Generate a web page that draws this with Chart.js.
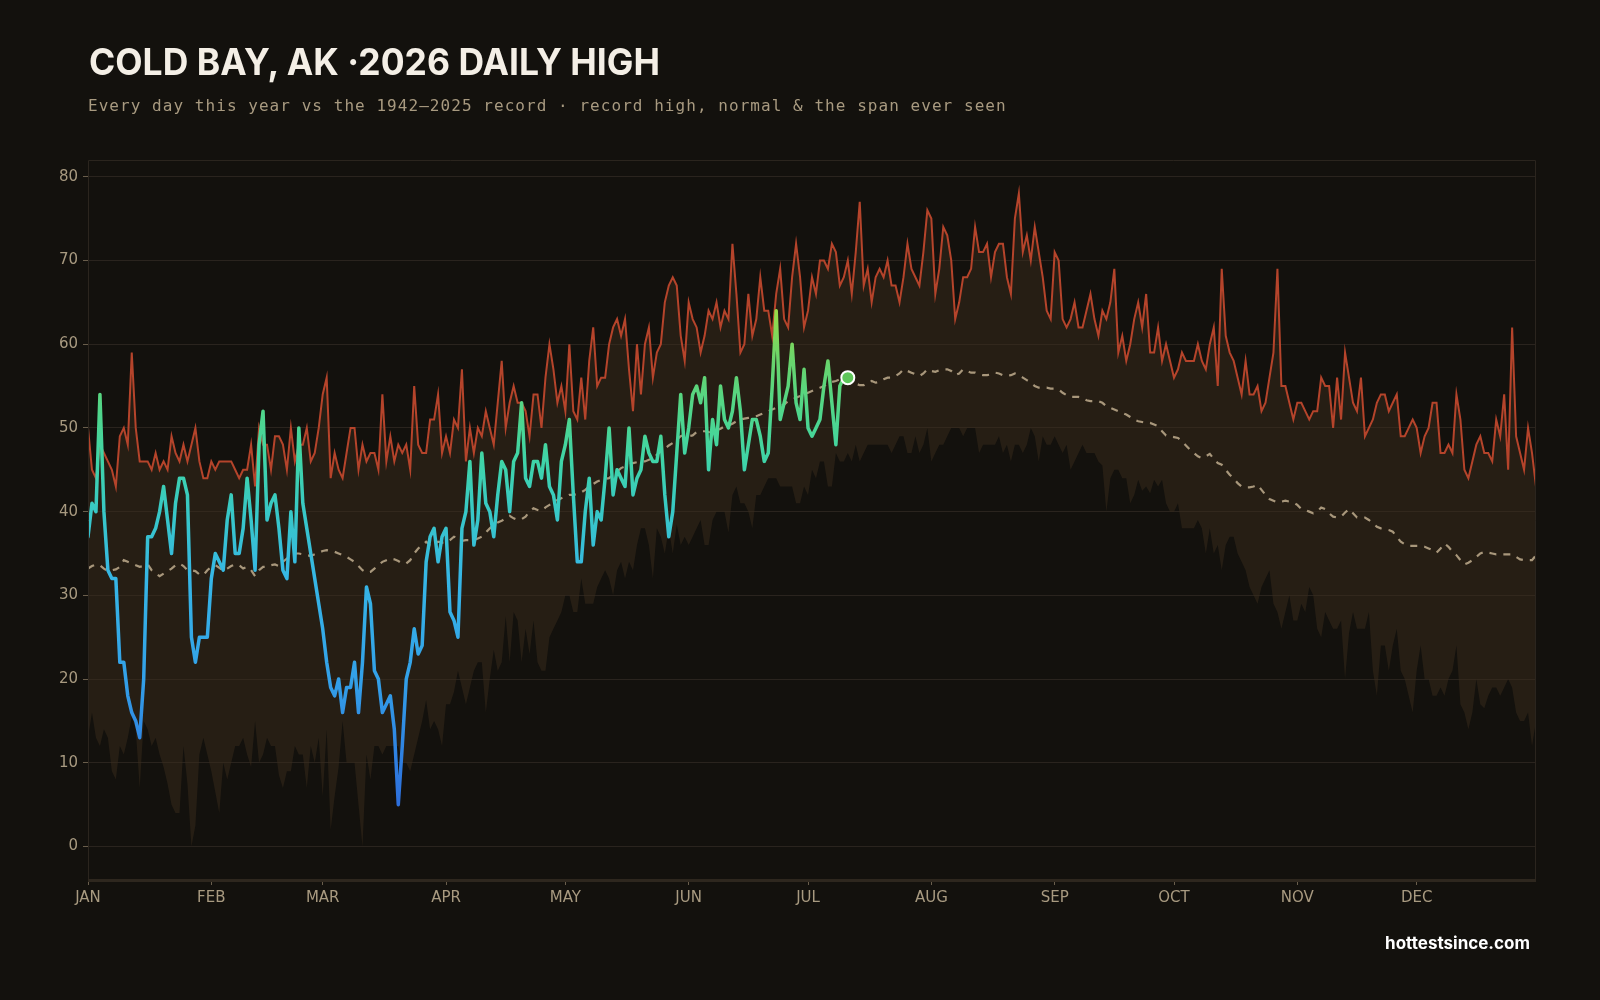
<!DOCTYPE html>
<html>
<head>
<meta charset="utf-8">
<title>Cold Bay, AK 2026 daily high</title>
<script src="https://cdn.jsdelivr.net/npm/chart.js@4.4.1/dist/chart.umd.min.js"></script>
<style>
  html, body { margin: 0; padding: 0; background: #13110d; }
  #wrap { position: relative; width: 1600px; height: 1000px; overflow: hidden; }
  #title { position: absolute; left: 89px; top: 40px; font: 700 37px Inter, "DejaVu Sans", sans-serif; line-height: 44px; color: #f4efe6; white-space: nowrap; transform-origin: 0 0; }
  #sub { position: absolute; left: 88px; top: 96px; font: 16px "DejaVu Sans Mono", monospace; letter-spacing: 1.05px; line-height: 20px; color: #a89a80; white-space: nowrap; }
  #foot { position: absolute; right: 70px; top: 933px; font: 700 17px Inter, "DejaVu Sans", sans-serif; line-height: 20px; color: #ffffff; }
  canvas { position: absolute; left: 0; top: 0; }
</style>
</head>
<body>
<div id="wrap">
  <canvas id="tempChart" width="1600" height="1000"></canvas>
  <div id="title">COLD BAY, AK ·2026 DAILY HIGH</div>
  <div id="sub">Every day this year vs the 1942–2025 record · record high, normal &amp; the span ever seen</div>
  <div id="foot">hottestsince.com</div>
</div>
<script>
// day-of-year index 0 = Jan 1, 364 = Dec 31
const monthStarts = [0, 31, 59, 90, 120, 151, 181, 212, 243, 273, 304, 334];
const monthLabels = ['JAN', 'FEB', 'MAR', 'APR', 'MAY', 'JUN', 'JUL', 'AUG', 'SEP', 'OCT', 'NOV', 'DEC'];
const yTicks = [0, 10, 20, 30, 40, 50, 60, 70, 80];

// record high, 1942-2025 (°F)
const recordHigh = [
  50,45,44,48,47,46,45,43,49,50, 48,59,50,46,46,46,45,47,45,46,
  45,49,47,46,48,46,48,50,46,44, 44,46,45,46,46,46,46,45,44,45,
  45,48,43,50,48,48,45,49,49,48, 45,50,46,48,48,50,46,47,50,54,
  56,44,47,45,44,47,50,50,45,48, 46,47,47,45,54,46,49,46,48,47,
  48,45,55,48,47,47,51,51,54,47, 49,47,51,50,57,46,50,47,50,49,
  52,50,48,53,58,50,53,55,53,53, 52,49,54,54,50,56,60,57,53,55,
  52,60,52,51,56,51,58,62,55,56, 56,60,62,63,61,63,57,52,60,54,
  60,62,56,59,60,65,67,68,67,61, 58,65,63,62,59,61,64,63,65,62,
  64,63,72,66,59,60,66,61,63,68, 64,64,61,66,69,63,62,68,72,68,
  62,64,68,66,70,70,69,72,71,67, 68,70,66,71,77,67,69,65,68,69,
  68,70,67,67,65,68,72,69,68,67, 71,76,75,66,69,74,73,70,63,65,
  68,68,69,74,71,71,72,68,71,72, 72,68,66,75,78,71,73,70,74,71,
  68,64,63,71,70,63,62,63,65,62, 62,64,66,63,61,64,63,65,69,59,
  61,58,60,63,65,62,66,59,59,62, 58,60,58,56,57,59,58,58,58,60,
  58,57,60,62,55,69,61,59,58,56, 54,58,54,54,55,52,53,56,59,69,
  55,55,53,51,53,53,52,51,52,52, 56,55,55,50,56,51,59,56,53,52,
  56,49,50,51,53,54,54,52,53,54, 49,49,50,51,50,47,49,50,53,53,
  47,47,48,47,54,51,45,44,46,48, 49,47,47,46,51,49,54,45,62,49,
  47,45,50,47,43
];

// lowest daily high ever seen, 1942-2025 (°F)
const recordLow = [
  13,16,13,12,14,13,9,8,12,11, 13,15.5,14,7,15,14,12,13,11,9.5,
  7.5,5,4,4,12,7.5,0,2.5,11,13, 11,9,6.5,4,10,8,10,12,12,13,
  11,9.5,15,10,11,13,12,12,8.5,7, 9,9,12,11,11,7,12,10,13,6,
  14,2,6,9.5,15,10,10,10,5,0, 11,8,12,12,11,12,12,12,12,10,
  10,9,11,13,15,17.5,14,15,14,12, 17,17,18.5,21,19,17,19,21,22,22,
  16,20,23.5,21,22,27.5,22,28,27,22, 26,23,27,22,21,21,25,26,27,28,
  30,30,28,28,32,29,29,29,31,32, 33,32,30,33,34,32,34,33,36,38,
  38,36,32,38,37,35,38,35,38.5,36, 37,36,37,38,39,36,36,39,40,40,
  40,37.5,42,43,41,41,40,38,42,42, 43,44,44,44,43,43,43,43,41,41,
  43,42,45,44,46,46,43,43,47,46, 46,47,46,48,46,47,48,48,48,48,
  48,48,47,48,49,49,47,47,49,47, 48,50,46,47,48,48,49,50,50,50,
  49,50,50,50,47,48,48,48,48,49, 47,48,46,48,48,47,48,50,49,46,
  49,48,48,49,48,47,48,45,46,47, 48,47,47,47,46,45.5,40,44,45,45,
  44,44,41,42,43.8,42.5,43,42.2,43.8,43, 43.8,41,40,40,41,38,38,38,38,39,
  38,35,38,35,36,33,36,37,37,35, 34,33,31,30,29,31,32,33,29,28,
  26,28,30,27,27,29,28,31,30,26, 25,28,27,26,26,27,20,25.5,28,26,
  26,26,28,21,18,24,24,21,24,26, 21,20,18,16,21,24,20,20,18,18,
  19,18,20,21,24,17,16,14,16,20, 17,16.5,18,19,19,18,19,20,19,16,
  15,15,16,12,15
];

// normal daily high (°F)
const normalHigh = [
  33.2,33.5,33.7,33.6,33.2,32.9,33.0,33.1,33.4,34.2, 34.0,33.8,33.6,33.4,33.5,33.7,33.0,32.6,32.3,32.6,
  32.9,33.2,33.6,33.8,33.5,33.0,33.0,32.9,32.5,32.4, 33.0,33.4,33.6,33.3,32.9,33.2,33.5,33.7,33.6,33.2,
  33.4,33.0,32.3,33.0,33.4,33.4,33.6,33.7,33.5,34.0, 34.4,34.8,35.0,35.0,34.9,34.8,34.7,34.9,35.1,35.3,
  35.4,35.3,35.2,35.0,34.8,34.6,34.3,34.0,33.5,33.0, 32.7,32.8,33.2,33.6,34.0,34.2,34.4,34.3,34.1,33.8,
  33.8,34.2,35.0,35.6,36.0,36.4,36.0,36.1,36.4,36.3, 36.3,36.6,37.0,36.8,36.5,36.6,36.6,36.6,36.8,37.0,
  37.5,38.0,38.4,38.7,38.9,39.2,39.5,39.2,39.0,39.1, 39.4,40.0,40.4,40.2,40.1,40.5,40.8,41.0,41.4,41.6,
  41.8,42.0,42.0,42.1,42.3,42.6,43.0,43.3,43.6,43.8, 43.9,44.0,44.4,44.8,45.2,45.4,45.6,45.8,45.9,46.0,
  46.0,46.2,46.3,46.8,47.2,47.5,47.9,48.2,48.6,49.0, 49.2,49.0,49.1,49.5,49.6,49.6,49.5,49.6,49.7,49.9,
  50.2,50.3,50.5,50.8,51.0,51.1,51.2,51.3,51.4,51.6, 51.8,52.0,52.2,52.4,52.6,52.8,53.2,53.4,53.6,53.8,
  54.0,54.2,54.4,54.6,54.8,55.0,55.3,55.5,55.6,55.8, 56.0,55.8,55.5,55.3,55.1,55.1,55.4,55.6,55.4,55.5,
  55.8,56.0,56.0,56.2,56.5,57.0,56.8,56.6,56.4,56.2, 56.5,57.0,56.8,56.7,56.9,57.0,57.0,56.8,56.3,56.5,
  57.0,56.8,56.6,56.6,56.4,56.3,56.3,56.4,56.6,56.5, 56.3,56.2,56.3,56.5,56.3,56.0,55.7,55.4,55.0,54.8,
  54.8,54.8,54.7,54.7,54.6,54.2,53.9,53.7,53.7,53.7, 53.6,53.3,53.2,53.2,53.2,53.0,52.6,52.4,52.2,52.0,
  51.8,51.6,51.3,51.0,50.8,50.7,50.6,50.6,50.4,50.2, 49.6,49.1,49.0,48.9,48.8,48.4,47.9,47.4,47.0,46.6,
  46.4,46.6,46.9,46.3,45.8,45.6,45.0,44.4,44.0,43.4, 43.0,42.9,42.9,43.0,43.2,42.6,42.0,41.5,41.3,41.1,
  41.2,41.3,41.2,41.1,40.8,40.3,40.2,40.0,39.8,40.0, 40.5,40.3,39.8,39.4,39.3,39.4,39.9,40.3,39.8,39.3,
  39.3,39.3,39.0,38.6,38.2,38.0,37.9,37.8,37.6,37.0, 36.4,36.1,35.9,35.9,35.9,35.9,35.8,35.6,35.4,35.1,
  35.6,36.2,35.8,35.2,34.8,34.2,33.7,33.9,34.2,34.6, 35.0,35.2,35.1,35.0,34.9,34.9,34.9,34.9,34.9,34.6,
  34.3,34.2,34.2,34.2,34.8
];

// 2026 daily high so far, Jan 1 - Jul 11 (°F)
const daily2026 = [
  37,41,40,54,40,33,32,32,22,22, 18,16,15,13,20,37,37,38,40,43,
  39,35,41,44,44,42,25,22,25,25, 25,32,35,34,33,39,42,35,35,38,
  44,39,33,48,52,39,41,42,38,33, 32,40,34,50,41,38,35,32,29,26,
  22,19,18,20,16,19,19,22,16,22, 31,29,21,20,16,17,18,14,5,12,
  20,22,26,23,24,34,37,38,34,37, 38,28,27,25,38,40,46,36,39,47,
  41,40,37,42,46,45,40,46,47,53, 44,43,46,46,44,48,43,42,39,46,
  48,51,42,34,34,40,44,36,40,39, 44,50,42,45,44,43,50,42,44,45,
  49,47,46,46,49,42,37,40,47,54, 47,50,54,55,53,56,45,51,48,55,
  51,50,52,56,52,45,48,51,51,49, 46,47,55,64,51,53,55,60,53,51,
  57,50,49,50,51,55,58,53,48,55, 56,56
];

// colour of the 2026 line by temperature
const tempStops = [
  [0, '#2c5fd6'], [10, '#2f7ee0'], [20, '#33a0e8'], [32, '#36b6e6'],
  [40, '#38c8c6'], [46, '#3fd4a8'], [52, '#50d68a'], [58, '#68d46c'],
  [64, '#98dc48'], [70, '#b0e040']
];

const toPoints = arr => arr.map((v, i) => ({ x: i, y: v }));

function tempGradient(chart) {
  const area = chart.chartArea;
  if (!area) return '#38c8c6';
  const y = chart.scales.y;
  const p0 = y.getPixelForValue(0);
  const p1 = y.getPixelForValue(70);
  const g = chart.ctx.createLinearGradient(0, p0, 0, p1);
  tempStops.forEach(s => g.addColorStop(s[0] / 70, s[1]));
  return g;
}

const plotFrame = {
  id: 'plotFrame',
  afterDraw(chart) {
    const { ctx, chartArea: a } = chart;
    ctx.save();
    ctx.strokeStyle = '#2b251e';
    ctx.lineWidth = 1;
    ctx.beginPath();
    ctx.moveTo(a.left + 0.5, a.bottom);
    ctx.lineTo(a.left + 0.5, a.top + 0.5);
    ctx.lineTo(a.right - 0.5, a.top + 0.5);
    ctx.lineTo(a.right - 0.5, a.bottom);
    ctx.stroke();
    ctx.strokeStyle = '#2e271e';
    ctx.lineWidth = 3;
    ctx.beginPath();
    ctx.moveTo(a.left, a.bottom + 0.5);
    ctx.lineTo(a.right, a.bottom + 0.5);
    ctx.stroke();
    ctx.restore();
  }
};

const lastIdx = daily2026.length - 1;

new Chart(document.getElementById('tempChart'), {
  type: 'line',
  data: {
    datasets: [
      {
        label: 'Record low',
        data: toPoints(recordLow),
        borderWidth: 0,
        pointRadius: 0,
        fill: false,
        order: 3
      },
      {
        label: 'Record high',
        data: toPoints(recordHigh),
        borderColor: '#b5442b',
        borderWidth: 2,
        pointRadius: 0,
        fill: 0,
        backgroundColor: 'rgba(58,44,28,0.5)',
        order: 2
      },
      {
        label: 'Normal',
        data: toPoints(normalHigh),
        borderColor: 'rgba(176,158,130,0.95)',
        borderWidth: 2.2,
        borderDash: [7, 7],
        pointRadius: 0,
        fill: false,
        order: 1
      },
      {
        label: '2026',
        data: toPoints(daily2026),
        borderColor: c => tempGradient(c.chart),
        borderWidth: 3.5,
        borderJoinStyle: 'round',
        borderCapStyle: 'round',
        pointRadius: c => c.dataIndex === lastIdx ? 6.5 : 0,
        pointBackgroundColor: '#5ec65a',
        pointBorderColor: '#ffffff',
        pointBorderWidth: 2,
        fill: false,
        order: 0
      }
    ]
  },
  options: {
    responsive: false,
    animation: false,
    layout: { padding: { top: 160, right: 64, bottom: 0, left: 0 } },
    elements: { line: { tension: 0 } },
    plugins: {
      legend: { display: false },
      tooltip: { enabled: false },
      title: { display: false }
    },
    scales: {
      x: {
        type: 'linear',
        min: 0,
        max: 364,
        afterFit: s => { s.height = 120; },
        afterBuildTicks: s => { s.ticks = monthStarts.map(v => ({ value: v })); },
        border: { display: false },
        grid: { drawOnChartArea: false, drawTicks: true, tickLength: 5, tickColor: '#6a5e4c' },
        ticks: {
          color: '#a89a80',
          font: { family: 'DejaVu Sans', size: 15 },
          padding: 4,
          maxRotation: 0,
          autoSkip: false,
          callback: v => monthLabels[monthStarts.indexOf(v)]
        }
      },
      y: {
        min: -4,
        max: 82,
        afterFit: s => { s.width = 88; },
        afterBuildTicks: s => { s.ticks = yTicks.map(v => ({ value: v })); },
        border: { display: false },
        grid: { color: '#2a241e', lineWidth: 1, drawTicks: true, tickLength: 5, tickColor: '#6a5e4c' },
        ticks: {
          color: '#a89a80',
          font: { family: 'DejaVu Sans', size: 15 },
          padding: 5
        }
      }
    }
  },
  plugins: [plotFrame]
});

// fit the title to the width it has in the original
document.fonts.ready.then(() => {
  const t = document.getElementById('title');
  const w = t.getBoundingClientRect().width;
  if (w > 0) t.style.transform = 'scaleX(' + (571 / w) + ')';
});
</script>
</body>
</html>
